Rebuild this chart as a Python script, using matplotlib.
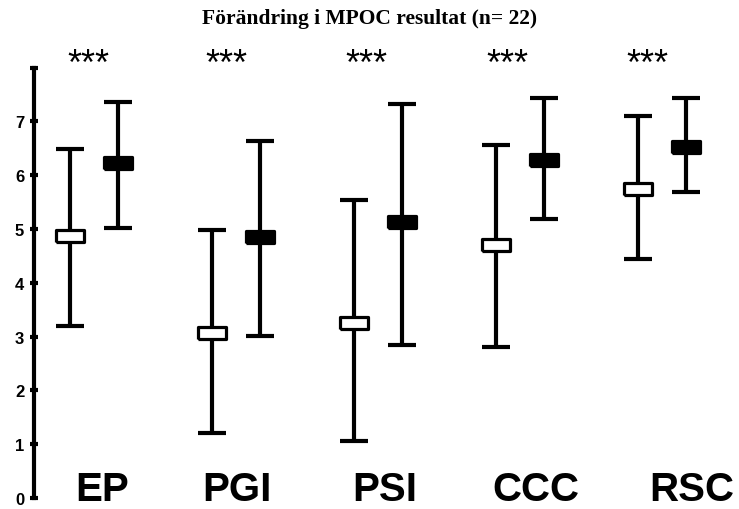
import matplotlib
matplotlib.use("Agg")
import matplotlib.pyplot as plt
import numpy as np

# kategorier och värden (före = öppen ruta, efter = fylld ruta)
categories = ["EP", "PGI", "PSI", "CCC", "RSC"]
fore_mean = [4.87, 3.06, 3.25, 4.71, 5.74]
fore_low = [3.20, 1.21, 1.06, 2.81, 4.44]
fore_high = [6.49, 4.98, 5.54, 6.56, 7.10]
efter_mean = [6.22, 4.85, 5.13, 6.28, 6.52]
efter_low = [5.02, 3.02, 2.84, 5.19, 5.68]
efter_high = [7.36, 6.63, 7.32, 7.43, 7.43]
signif = ["***", "***", "***", "***", "***"]
y_ticks = [0, 1, 2, 3, 4, 5, 6, 7, 8]
y_ticklabels = ["0", "1", "2", "3", "4", "5", "6", "7", ""]

title = "Förändring i MPOC resultat (n= 22)"

W, H = 739, 510
fig = plt.figure(figsize=(W / 100, H / 100), dpi=100)
# axeln börjar vid x=34 px och täcker hela höjden
ax = fig.add_axes([34 / W, 0, 1 - 34 / W, 1])

x = np.arange(len(categories))
off = 0.17
x1 = x - off
x2 = x + off

def draw_group(xs, mean, low, high, face):
    mean = np.array(mean)
    err = [mean - np.array(low), np.array(high) - mean]
    ax.errorbar(xs, mean, yerr=err, fmt="none", ecolor="black",
                elinewidth=3, capsize=10, capthick=3, zorder=2)
    box = [(-1, -0.43), (1, -0.43), (1, 0.43), (-1, 0.43), (-1, -0.43)]
    ax.plot(xs, mean, linestyle="none", marker=box, markersize=20,
            markerfacecolor=face, markeredgecolor="black",
            markeredgewidth=2.3, zorder=3)

draw_group(x1, fore_mean, fore_low, fore_high, "white")
draw_group(x2, efter_mean, efter_low, efter_high, "black")

# stjärnor ovanför varje grupp
star_dx = [-0.04, -0.07, -0.08, -0.09, -0.10]
for i, s in enumerate(signif):
    ax.text(x[i] + star_dx[i], 7.88, s, ha="center", va="baseline",
            fontsize=26, family="Liberation Sans")

# kategorinamn längst ner
label_dx = [0.06, 0.01, 0.05, 0.11, 0.21]
for i, c in enumerate(categories):
    ax.text(x[i] + label_dx[i], -0.185, c, ha="center", va="bottom",
            fontsize=29, fontweight="bold", family="Liberation Sans")

ax.set_xlim(-60 / 142, (W - 94) / 142)
ax.set_ylim((499 - H) / 53.8, 499 / 53.8)

for s in ["top", "right", "bottom"]:
    ax.spines[s].set_visible(False)
ax.spines["left"].set_linewidth(3)
ax.spines["left"].set_bounds(0, 8)
ax.set_xticks([])
ax.set_yticks(y_ticks)
ax.set_yticklabels(y_ticklabels, fontsize=12, fontweight="bold",
                   family="Liberation Sans")
ax.tick_params(axis="y", direction="inout", length=6, width=3, pad=4)
ax.patch.set_alpha(0)

fig.text(0.5, 1 - 19 / H, title, ha="center", va="center", fontsize=15.5,
         fontweight="bold", family="Liberation Serif")

fig.savefig("out.png", dpi=100)
